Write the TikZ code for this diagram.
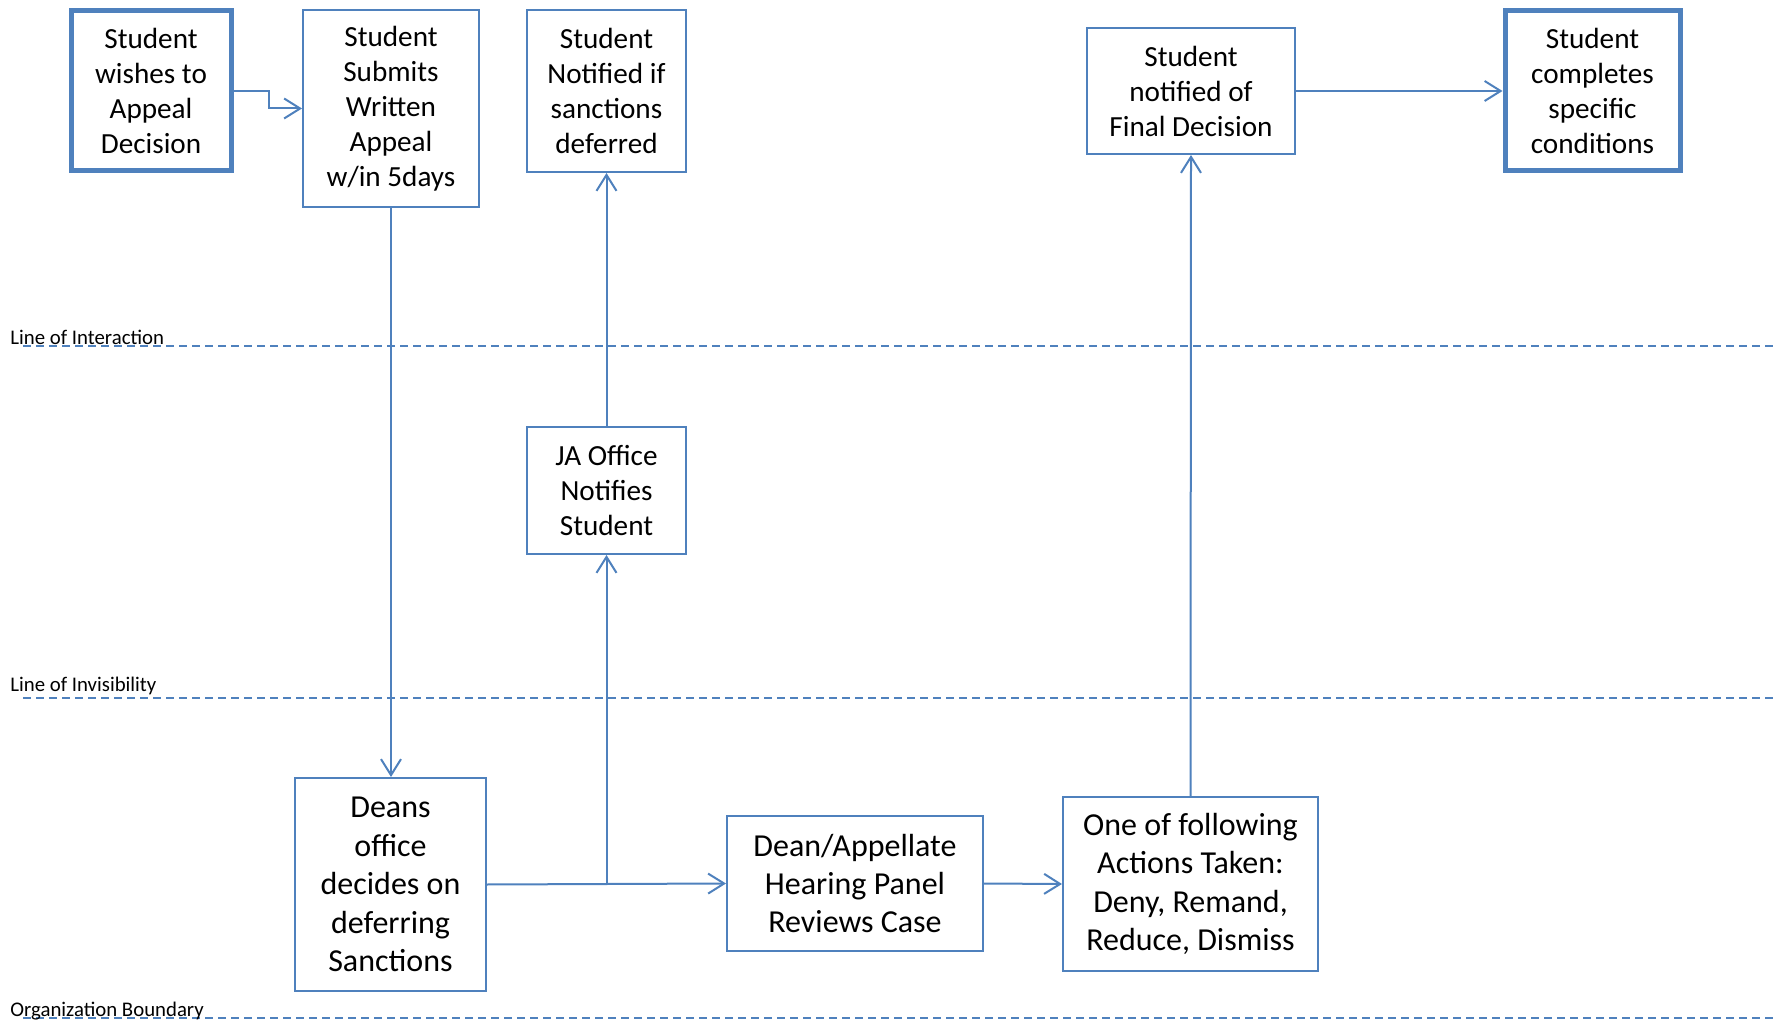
\documentclass[tikz,border=0pt]{standalone}
\usepackage{fontspec}
\setmainfont{Carlito}
\usetikzlibrary{arrows.meta,positioning}
\definecolor{flowblue}{RGB}{79,129,189}

\tikzset{
  stage/.style={draw=flowblue, line width=1pt, align=center, inner sep=0pt,
    font=\fontsize{14.6}{17.5}\selectfont},
  student stage/.style={stage, line width=2.5pt},
  back stage/.style={stage, font=\fontsize{16}{19.2}\selectfont},
  flow/.style={draw=flowblue, line width=1pt},
  boundary/.style={draw=flowblue, line width=1pt, dash pattern=on 4pt off 2.5pt},
  zone label/.style={anchor=base west, inner sep=0pt,
    font=\fontsize{10.4}{12}\selectfont}
}

\begin{document}
\begin{tikzpicture}[x=0.5pt, y=-0.5pt, >={Straight Barb[length=8pt,width=10pt]}]

            \useasboundingbox (0,0) rectangle (1773,1021);

            % boundary lines
            \foreach \y/\b/\l [count=\i] in {346/345/Line of Interaction,
                698/691/Line of Invisibility, 1018/1016/Organization Boundary}
            {
                \coordinate (line-\i-w) at (23,\y);
                \coordinate (line-\i-e) at (1773,\y);
                \draw [boundary] (line-\i-w) -- (line-\i-e);
                \node [zone label] (label-\i) at (10,\b) {\l};
            }

            % student actions
            \node [student stage, minimum width=80pt, minimum height=80pt]
                (wish) at (151,91) {Student\\wishes to\\Appeal\\Decision};
            \node [stage, minimum width=88pt, minimum height=98.5pt]
                (submit) at (391,108.5) {Student\\Submits\\Written\\Appeal\\w/in 5days};
            \node [stage, minimum width=79.5pt, minimum height=81pt]
                (notified) at (606.5,91) {Student\\Notified if\\sanctions\\deferred};
            \node [stage, minimum width=104pt, minimum height=63pt]
                (final) at (1191,91) {Student\\notified of\\Final Decision};
            \node [student stage, minimum width=87.5pt, minimum height=80pt]
                (complete) at (1592.5,91) {Student\\completes\\specific\\conditions};

            % onstage
            \node [stage, minimum width=79.5pt, minimum height=63.5pt]
                (ja) at (606.5,490.5) {JA Office\\Notifies\\Student};

            % backstage
            \node [back stage, minimum width=95.5pt, minimum height=106.5pt]
                (deans) at (390.5,884.5) {Deans\\office\\decides on\\deferring\\Sanctions};
            \node [back stage, minimum width=128pt, minimum height=67.5pt]
                (panel) at (855,883.5) {Dean/Appellate\\Hearing Panel\\Reviews Case};
            \node [back stage, minimum width=127.5pt, minimum height=87pt]
                (actions) at (1190.5,884) {One of following\\Actions Taken:\\Deny, Remand,\\Reduce, Dismiss};

            % connectors
            \draw [flow, ->] (wish.east) -- ++(35,0) |- (submit.west);
            \draw [flow, ->] (submit.south) -- (submit.south |- deans.north);
            \coordinate (split) at (deans.east -| ja.south);
            \draw [flow, ->] (split) -- (ja.south);

            \foreach \a/\b in {deans.east/panel.west, panel.east/actions.west,
                ja.north/notified.south, actions.north/final.south,
                final.east/complete.west}
                \draw [flow, ->] (\a) -- (\b);

\end{tikzpicture}
\end{document}
